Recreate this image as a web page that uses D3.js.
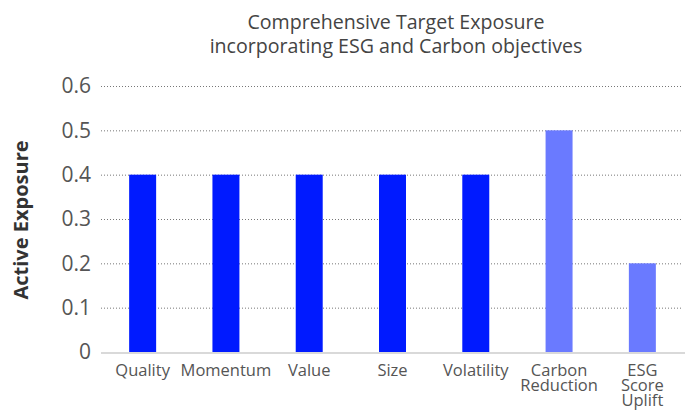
<!DOCTYPE html>
<html>
<head>
<meta charset="utf-8">
<script src="https://cdn.jsdelivr.net/npm/d3@7"></script>
<style>
  body { margin: 0; background: #fff; }
  svg { display: block; font-family: "Open Sans", Lato, sans-serif; }
</style>
</head>
<body>
<svg id="chart"></svg>
<script>
// Dati
const categories = [["Quality"], ["Momentum"], ["Value"], ["Size"], ["Volatility"], ["Carbon", "Reduction"], ["ESG", "Score", "Uplift"]];
const exposures = [0.4, 0.4, 0.4, 0.4, 0.4, 0.5, 0.2];
const groups = ["factor", "factor", "factor", "factor", "factor", "esg", "esg"];
const yTicks = [0, 0.1, 0.2, 0.3, 0.4, 0.5, 0.6];
const titleLines = ["Comprehensive Target Exposure", "incorporating ESG and Carbon objectives"];

const width = 690, height = 410;
const margin = { top: 86, right: 6, bottom: 58, left: 101 };

const svg = d3.select("#chart").attr("width", width).attr("height", height);

const x = d3.scaleBand()
  .domain(d3.range(categories.length))
  .range([margin.left, width - margin.right])
  .paddingInner(0.676)
  .paddingOuter(0.338);

const y = d3.scaleLinear()
  .domain([0, 0.6])
  .range([height - margin.bottom, margin.top]);

const color = d3.scaleOrdinal().domain(["factor", "esg"]).range(["#001aff", "#6a7aff"]);

// Titolo
svg.append("g").selectAll("text")
  .data(titleLines)
  .join("text")
  .attr("x", 396)
  .attr("y", (d, i) => 29 + i * 24)
  .attr("text-anchor", "middle")
  .attr("font-size", 19.6)
  .attr("fill", "#444")
  .text(d => d);

// Griglia
const yAxis = svg.append("g")
  .attr("transform", `translate(${margin.left},0)`)
  .call(d3.axisLeft(y).tickValues(yTicks).tickFormat(d3.format("~g")).tickSize(0).tickPadding(10));
yAxis.select(".domain").remove();
yAxis.selectAll("text")
  .attr("font-size", 21)
  .attr("fill", "#555")
  .attr("font-family", "'Open Sans', sans-serif");
yAxis.selectAll(".tick").filter(d => d > 0).append("line")
  .attr("x1", 0)
  .attr("x2", width - margin.right - margin.left - 1)
  .attr("stroke", "#777")
  .attr("stroke-width", 1)
  .attr("stroke-dasharray", "1,2");

// Barre
svg.append("g").selectAll("rect")
  .data(exposures)
  .join("rect")
  .attr("x", (d, i) => x(i))
  .attr("y", d => y(d))
  .attr("width", x.bandwidth())
  .attr("height", d => y(0) - y(d))
  .attr("fill", (d, i) => color(groups[i]));

// Linea base
svg.append("line")
  .attr("x1", margin.left)
  .attr("x2", width - margin.right + 1)
  .attr("y1", y(0) + 1)
  .attr("y2", y(0) + 1)
  .attr("stroke", "#d9d9d9")
  .attr("stroke-width", 2);

// Etichette asse x
const xLabels = svg.append("g").selectAll("text")
  .data(categories)
  .join("text")
  .attr("x", (d, i) => x(i) + x.bandwidth() / 2)
  .attr("y", 376)
  .attr("text-anchor", "middle")
  .attr("font-size", 16.5)
  .attr("fill", "#555");
xLabels.selectAll("tspan")
  .data(d => d)
  .join("tspan")
  .attr("x", function() { return this.parentNode.getAttribute("x"); })
  .attr("dy", (d, i) => i === 0 ? 0 : 15)
  .text(d => d);

// Titolo asse y
svg.append("text")
  .attr("transform", `translate(28,220) rotate(-90)`)
  .attr("text-anchor", "middle")
  .attr("font-size", 20)
  .attr("font-weight", "bold")
  .attr("fill", "#333")
  .text("Active Exposure");
</script>
</body>
</html>
